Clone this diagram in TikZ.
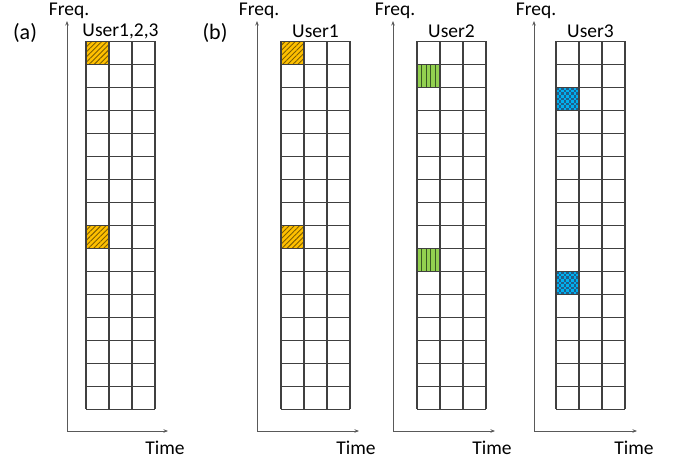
\documentclass[tikz,border=0pt]{standalone}
\usepackage{fontspec}
\setmainfont{Carlito}
\usetikzlibrary{arrows.meta,patterns.meta}

\definecolor{gridc}{HTML}{404040}
\definecolor{axisc}{HTML}{595959}
\definecolor{orangec}{HTML}{FFC000}
\definecolor{hatchc}{HTML}{7F5F00}
\definecolor{greenc}{HTML}{92D050}
\definecolor{greenl}{HTML}{385723}
\definecolor{bluec}{HTML}{00B0F0}
\definecolor{bluel}{HTML}{1F5F8B}

\tikzset{
  lbl/.style={font=\fontsize{19.5}{21}\selectfont, inner sep=0pt, text=black},
  tag/.style={font=\fontsize{22}{24}\selectfont, inner sep=0pt, text=black},
  gridline/.style={draw=gridc, line width=1.1pt},
  axisline/.style={draw=axisc, line width=0.9pt, -{Stealth[length=4.5pt,width=3.5pt]}},
}

% cell (top-left corner x,y) of side 23
\newcommand\hatchcell[2]{%
  \fill[orangec] (#1,#2) rectangle ++(23,23);
  \fill[pattern={Lines[angle=45,distance=3.6pt,line width=0.9pt]},pattern color=hatchc]
    (#1,#2) rectangle ++(23,23);}
\newcommand\stripecell[2]{%
  \fill[greenc] (#1,#2) rectangle ++(23,23);
  \foreach \k in {1,...,4}{\draw[greenl,line width=0.9pt] (#1+\k*4.6,#2) -- ++(0,23);}}
\newcommand\checkcell[2]{%
  \fill[bluec] (#1,#2) rectangle ++(23,23);
  \foreach \i in {0,2,...,8}{\foreach \j in {0,2,...,8}{%
    \fill[bluel] (#1+\i*2.5556,#2+\j*2.5556) rectangle ++(2.5556,2.5556);}}
  \foreach \i in {1,3,...,7}{\foreach \j in {1,3,...,7}{%
    \fill[bluel] (#1+\i*2.5556,#2+\j*2.5556) rectangle ++(2.5556,2.5556);}}}

\begin{document}
\begin{tikzpicture}[x=1pt,y=-1pt]
\useasboundingbox (0,0) rectangle (676,459);

% highlighted resource blocks
\hatchcell{86}{41.3}
\hatchcell{86}{225.3}
\hatchcell{281}{41.3}
\hatchcell{281}{225.3}
\stripecell{417}{64.3}
\stripecell{417}{248.3}
\checkcell{556}{87.3}
\checkcell{556}{271.3}

% panels: id / axis x / grid x / time-arrow end x / user label
\foreach \id/\ax/\gx/\ex/\lab in {a/67/86/168/{User1,2,3}, b1/257/281/359/{User1}, b2/393/417/495/{User2}, b3/534/556/637/{User3}}{
  % 3 x 16 resource grid
  \foreach \r in {0,...,16}{\draw[gridline] (\gx,41.3+\r*23) -- ++(69,0);}
  \foreach \c in {0,...,3}{\draw[gridline] (\gx+\c*23,41.3) -- ++(0,368);}
  \coordinate (o-\id) at (\ax,431);
  \coordinate (f-\id) at (\ax,21);
  \coordinate (t-\id) at (\ex,431);
  \draw[axisline] (o-\id) -- (f-\id);
  \draw[axisline] (o-\id) -- (t-\id);
  \node[lbl] (freq-\id) at (\ax+2,11) {Freq.};
  \node[lbl] (time-\id) at (\ex-3,448) {Time};
  \node[lbl] (user-\id) at (\gx+34.5,31) {\lab};
}

\node[tag] (tag-a) at (25,33) {(a)};
\node[tag] (tag-b) at (215,33) {(b)};
\end{tikzpicture}
\end{document}
